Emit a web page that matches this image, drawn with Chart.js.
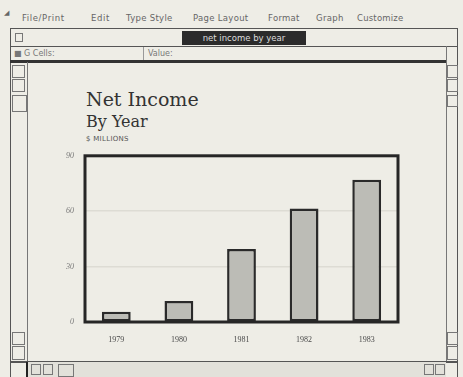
<!DOCTYPE html>
<html>
<head>
<meta charset="utf-8">
<script src="https://cdn.jsdelivr.net/npm/chart.js@4/dist/chart.umd.min.js"></script>
<style>
  html, body { margin: 0; padding: 0; }
  body { width: 463px; height: 377px; background: #eeede6; position: relative; overflow: hidden;
         font-family: "DejaVu Sans", sans-serif; color: #555; }
  .abs { position: absolute; }
  .menu { top: 13px; font-size: 8.5px; color: #666; white-space: nowrap; }
  .win { left: 10px; top: 28px; width: 448px; height: 360px; border: 1.5px solid #555; box-sizing: border-box; }
  .line { background: #555; }
  .box { border: 1px solid #777; box-sizing: border-box; }
  .tab { left: 182px; top: 31px; width: 124px; height: 14px; background: #2b2b2b; color: #ddd;
         font-size: 8.5px; line-height: 14px; text-align: center; }
  .cell { font-size: 8px; color: #777; top: 49px; }
  .title { font-family: "DejaVu Serif", serif; color: #333; }
  #chartBox { position: absolute; left: 40px; top: 140px; width: 360px; height: 210px; }
</style>
</head>
<body>
<!-- menu bar -->
<div class="abs menu" style="left:4px;top:9px;font-size:7px">&#9698;</div>
<div class="abs menu" style="left:22px;letter-spacing:0.6px">File/Print</div>
<div class="abs menu" style="left:91px;letter-spacing:0.6px">Edit</div>
<div class="abs menu" style="left:126px;letter-spacing:0.3px">Type Style</div>
<div class="abs menu" style="left:193px;letter-spacing:0.3px">Page Layout</div>
<div class="abs menu" style="left:268px;letter-spacing:0.3px">Format</div>
<div class="abs menu" style="left:316px;letter-spacing:0.3px">Graph</div>
<div class="abs menu" style="left:357px;letter-spacing:0.2px">Customize</div>

<!-- window frame -->
<div class="abs win"></div>
<div class="abs box" style="left:15px;top:33px;width:8px;height:9px"></div>
<div class="abs line" style="left:10px;top:46px;width:448px;height:1px"></div>
<div class="abs tab">net income by year</div>
<div class="abs cell" style="left:14px">&#9632; G Cells:</div>
<div class="abs line" style="left:143px;top:47px;width:1px;height:13px;background:#999"></div>
<div class="abs cell" style="left:148px">Value:</div>
<div class="abs line" style="left:10px;top:60px;width:436px;height:2.5px;background:#333"></div>
<div class="abs line" style="left:446px;top:46px;width:1px;height:316px;background:#777"></div>
<div class="abs line" style="left:27px;top:62px;width:1px;height:300px;background:#777"></div>
<div class="abs box" style="left:12px;top:65px;width:13px;height:13px"></div>
<div class="abs box" style="left:12px;top:79px;width:13px;height:13px"></div>
<div class="abs box" style="left:12px;top:95px;width:15px;height:17px"></div>
<div class="abs box" style="left:12px;top:332px;width:13px;height:13px"></div>
<div class="abs box" style="left:12px;top:346px;width:13px;height:14px"></div>
<div class="abs box" style="left:447px;top:65px;width:11px;height:13px"></div>
<div class="abs box" style="left:447px;top:79px;width:11px;height:13px"></div>
<div class="abs box" style="left:447px;top:95px;width:11px;height:12px"></div>
<div class="abs box" style="left:447px;top:332px;width:11px;height:13px"></div>
<div class="abs box" style="left:447px;top:346px;width:11px;height:14px"></div>
<div class="abs line" style="left:10px;top:361px;width:448px;height:1.5px"></div>
<div class="abs" style="left:28px;top:362px;width:418px;height:15px;background:#e2e1da"></div>
<div class="abs line" style="left:26px;top:362px;width:2px;height:15px;background:#222"></div>
<div class="abs box" style="left:31px;top:364px;width:10px;height:11px"></div>
<div class="abs box" style="left:43px;top:364px;width:10px;height:11px"></div>
<div class="abs box" style="left:58px;top:364px;width:16px;height:13px"></div>
<div class="abs box" style="left:424px;top:364px;width:10px;height:11px"></div>
<div class="abs box" style="left:435px;top:364px;width:10px;height:11px"></div>

<!-- chart headings -->
<div class="abs title" style="left:86px;top:88px;font-size:19px">Net Income</div>
<div class="abs title" style="left:86px;top:112px;font-size:16px">By Year</div>
<div class="abs" style="left:86px;top:135px;font-size:7px;color:#555;letter-spacing:0.3px">$ MILLIONS</div>

<div id="chartBox"><canvas id="incomeChart"></canvas></div>

<script>
// Net income per year, in millions of dollars
const years = ['1979', '1980', '1981', '1982', '1983'];
const netIncome = [5.6, 11.4, 39.5, 61.5, 77];
const yTicks = [0, 30, 60, 90];

// Heavy black box around the plot area
const plotFrame = {
    id: 'plotFrame',
    afterDatasetsDraw(chart) {
        const { ctx, chartArea: a } = chart;
        ctx.save();
        ctx.strokeStyle = '#262626';
        ctx.lineWidth = 3;
        ctx.strokeRect(a.left, a.top, a.right - a.left, a.bottom - a.top);
        ctx.restore();
    }
};

const ctx = document.getElementById('incomeChart').getContext('2d');
new Chart(ctx, {
    type: 'bar',
    data: {
        labels: years,
        datasets: [{
            label: 'Net Income',
            data: netIncome,
            backgroundColor: '#bcbcb6',
            borderColor: '#2a2a2a',
            borderWidth: 2.5,
            borderSkipped: false,
            barPercentage: 0.46,
            categoryPercentage: 1
        }]
    },
    options: {
        responsive: true,
        maintainAspectRatio: false,
        animation: false,
        layout: { padding: { top: 11, right: 2, left: 0, bottom: 0 } },
        plugins: {
            legend: { display: false },
            tooltip: { enabled: false }
        },
        scales: {
            x: {
                grid: { display: false },
                border: { display: false },
                afterFit: scale => { scale.height = 28; },
                ticks: {
                    color: '#4a4a4a',
                    padding: 5,
                    font: { family: 'Liberation Serif', size: 8 }
                }
            },
            y: {
                min: 0,
                max: 90,
                afterFit: scale => { scale.width = 45; },
                afterBuildTicks: scale => { scale.ticks = yTicks.map(v => ({ value: v })); },
                grid: {
                    drawTicks: false,
                    color: ctx => (ctx.tick && (ctx.tick.value === 30 || ctx.tick.value === 60)) ? '#dddcd4' : 'rgba(0,0,0,0)',
                    lineWidth: 1.5
                },
                border: { display: false },
                ticks: {
                    color: '#777',
                    padding: 11,
                    font: { family: 'Liberation Serif', size: 8, style: 'italic' }
                }
            }
        }
    },
    plugins: [plotFrame]
});
</script>
</body>
</html>
